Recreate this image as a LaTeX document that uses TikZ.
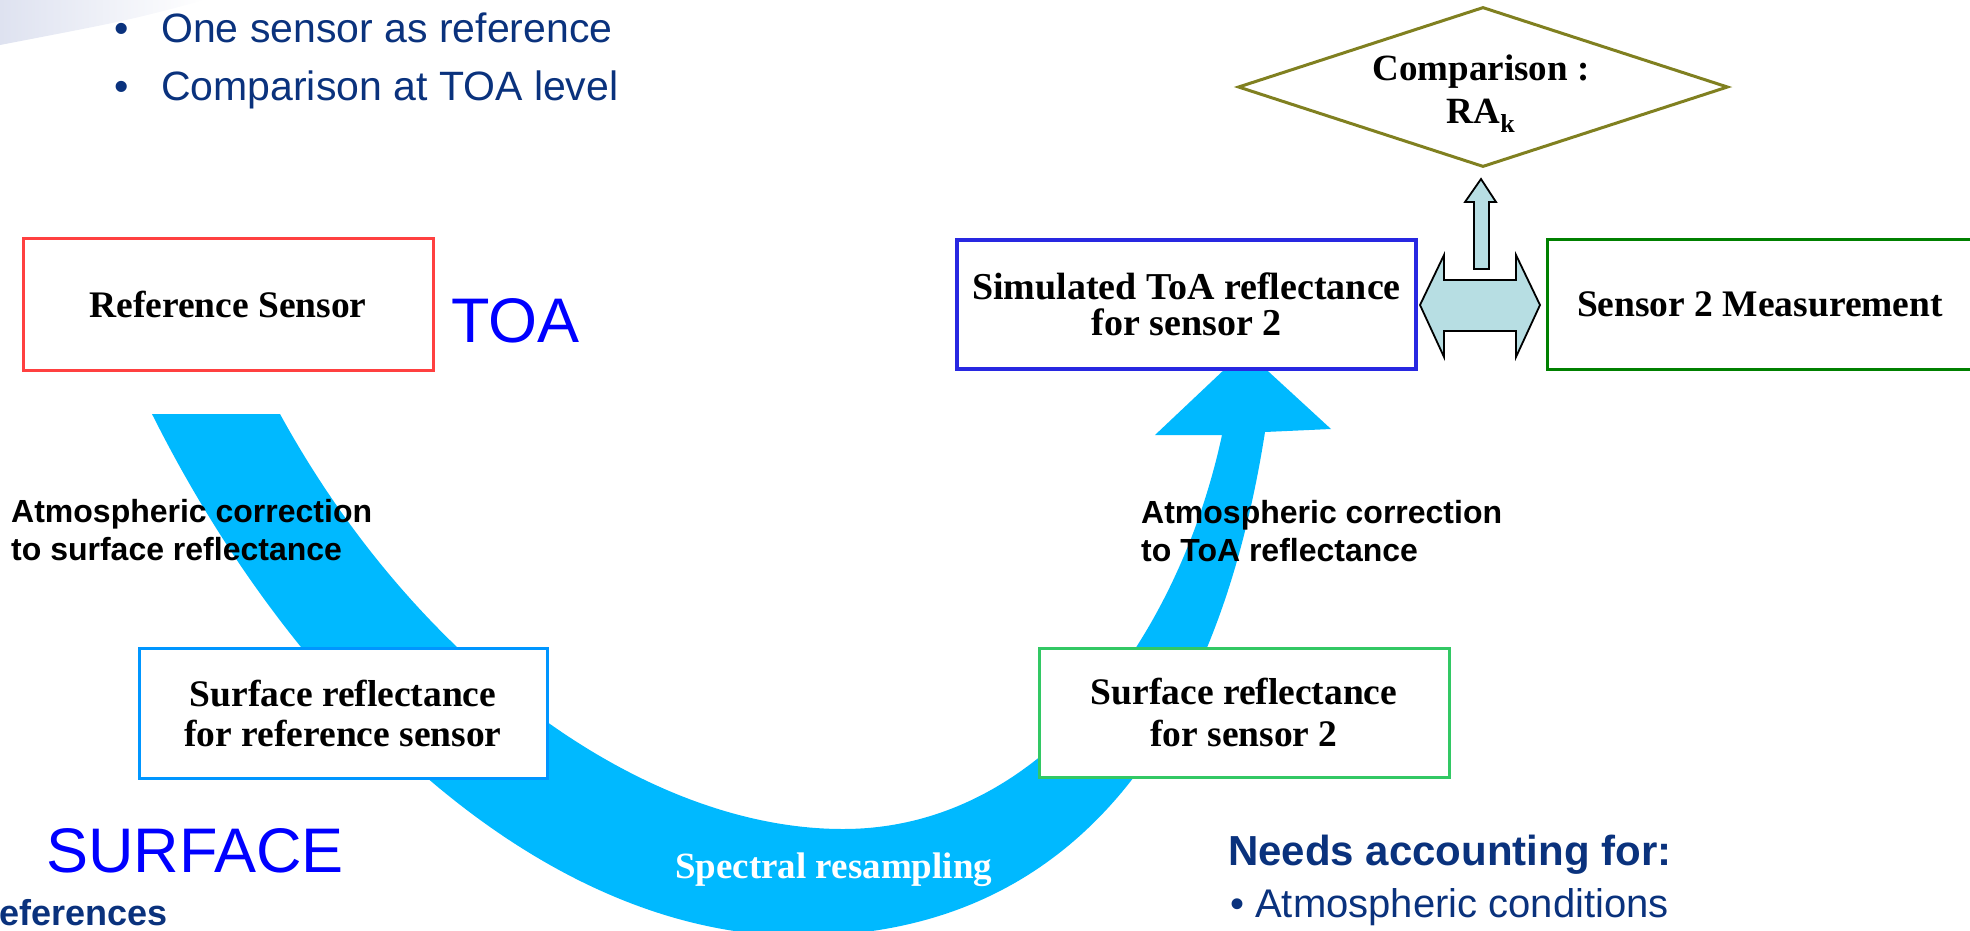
\documentclass[tikz,border=0pt]{standalone}
\usepackage{fontspec}
\setmainfont{Liberation Serif}
\setsansfont{Liberation Sans}
\usetikzlibrary{shapes.geometric}
\definecolor{navy}{RGB}{10,50,125}
\definecolor{bandc}{RGB}{0,185,255}
\definecolor{redb}{RGB}{255,64,64}
\definecolor{lblue}{RGB}{0,150,255}
\definecolor{simblue}{RGB}{40,40,225}
\definecolor{lgreen}{RGB}{50,200,100}
\definecolor{dgreen}{RGB}{0,128,0}
\definecolor{olivec}{RGB}{128,128,32}
\definecolor{arrfill}{RGB}{183,222,227}
\definecolor{fadec}{RGB}{222,226,240}
\newcommand{\fsz}[2]{\fontsize{#1}{#2}\selectfont}
\begin{document}
\begin{tikzpicture}[x=1pt,y=-1pt,
  boxn/.style={draw, fill=white, line width=3pt, rectangle, inner sep=0pt, align=center, font=\bfseries\fsz{37.5}{40}},
  sidelabel/.style={font=\sffamily\bfseries\fsz{32}{38}, anchor=base west, inner sep=0pt},
  navytext/.style={font=\sffamily\fsz{41}{58}, text=navy, anchor=base west, inner sep=0pt},
  bigblue/.style={font=\sffamily\fsz{63}{70}, text=blue, anchor=base west, inner sep=0pt},
  blockarrow/.style={fill=arrfill, draw=black, line width=1.8pt, line join=miter}
]
\useasboundingbox (0,0) rectangle (1970,930);
\clip (0,0) rectangle (1970,930);

% faint corner shading
\shade[left color=fadec, right color=white] (0,0) -- (205,0) .. controls (130,20) .. (0,45) -- cycle;

% top bullets
\node[navytext] (b1) at (114,42) {\makebox[47pt][l]{•}One sensor as reference};
\node[navytext] (b2) at (114,100) {\makebox[47pt][l]{•}Comparison at TOA level};

% big curved arrow
\fill[bandc] (152,414) .. controls (302,714) and (550,936) .. (800,936)
  .. controls (1120,936) and (1229,662) .. (1265,432)
  -- (1331,429) -- (1245,350) -- (1155,435) -- (1222,435)
  .. controls (1179,635) and (1043,829) .. (843,829)
  .. controls (643,829) and (417,664) .. (280,414) -- cycle;

% labels on the arrow
\node[sidelabel] (acl) at (11,522) {\begin{tabular}[t]{@{}l@{}}Atmospheric correction\\to surface reflectance\end{tabular}};
\node[sidelabel] (acr) at (1141,523) {\begin{tabular}[t]{@{}l@{}}Atmospheric correction\\to ToA reflectance\end{tabular}};
\node[font=\bfseries\fsz{37}{40}, text=white, anchor=base west, inner sep=0pt] (spec) at (675,878) {Spectral resampling};

% level labels
\node[bigblue] (toa) at (451,342) {TOA};
\node[bigblue] (surf) at (46,872) {SURFACE};
\node[font=\sffamily\bfseries\fsz{36}{40}, text=navy, anchor=base east, inner sep=0pt] (refs) at (168,925) {References};

% boxes
\node[boxn, draw=redb, minimum width=410pt, minimum height=132pt] (ref) at (228,304) {Reference Sensor};
\node[boxn, draw=lblue, minimum width=408pt, minimum height=130pt] (sref) at (343,713) {Surface reflectance\\for reference sensor};
\node[boxn, draw=simblue, line width=3.5pt, minimum width=459pt, minimum height=129pt, font=\bfseries\fsz{38}{36}] (sim) at (1186.5,304.5) {Simulated ToA reflectance\\for sensor 2};
\node[boxn, draw=lgreen, minimum width=410pt, minimum height=129pt, font=\bfseries\fsz{37.5}{42}] (s2) at (1244,712.5) {Surface reflectance\\for sensor 2};
\node[boxn, draw=dgreen, minimum width=426pt, minimum height=130pt] (meas) at (1760,304) {Sensor 2 Measurement};

% comparison diamond
\node[diamond, draw=olivec, line width=3pt, fill=white, aspect=3.06, minimum width=490pt, minimum height=160pt, inner sep=0pt] (cmp) at (1483,87) {};
\node[font=\bfseries\fsz{37}{43}, align=center, inner sep=0pt, anchor=base] (cmpt) at (1481,123) {Comparison :\\RA\textsubscript{k}};

% block arrows
\draw[blockarrow] (1420,305) -- (1444,255) -- (1444,280) -- (1516,280) -- (1516,255) -- (1540,305) -- (1516,357) -- (1516,331) -- (1444,331) -- (1444,357) -- cycle;
\draw[blockarrow] (1474,269) -- (1474,202) -- (1465,202) -- (1481,179) -- (1496,202) -- (1489,202) -- (1489,269) -- cycle;

% needs accounting
\node[font=\sffamily\bfseries\fsz{42}{50}, text=navy, anchor=base west, inner sep=0pt] (needs) at (1228,865) {Needs accounting for:};
\node[font=\sffamily\fsz{40}{50}, text=navy, anchor=base west, inner sep=0pt] (atm) at (1230,917) {• Atmospheric conditions};
\end{tikzpicture}
\end{document}
